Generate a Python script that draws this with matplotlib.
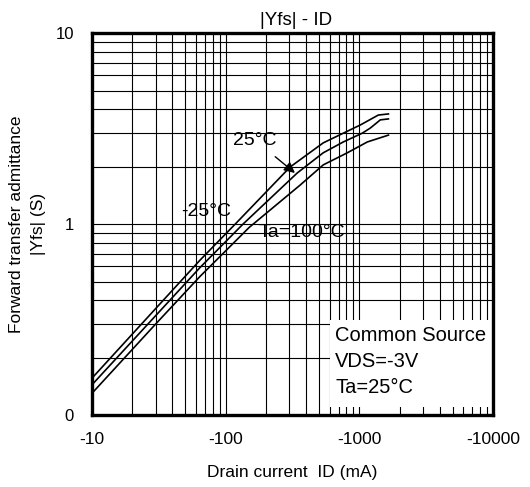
import numpy as np
import matplotlib
matplotlib.use("Agg")
import matplotlib.pyplot as plt
from matplotlib.patches import Rectangle

plt.rcParams['font.family'] = ['Liberation Sans', 'DejaVu Sans']

# ---------------------------------------------------------
# DATA
# ---------------------------------------------------------
# Drain current ID (mA) and |Yfs| (S) for each ambient temperature
id_m25 = [-10, -64, -118, -304, -537, -759, -1017, -1387, -1650]
yfs_m25 = [0.156, 0.645, 1.0, 1.99, 2.66, 2.99, 3.30, 3.72, 3.77]

id_25 = [-10, -64, -135, -343, -537, -759, -1052, -1208, -1436, -1650]
yfs_25 = [0.144, 0.59, 1.0, 1.85, 2.36, 2.69, 2.99, 3.18, 3.51, 3.55]

id_100 = [-10, -30, -64, -150, -361, -537, -813, -1148, -1650]
yfs_100 = [0.130, 0.30, 0.53, 0.96, 1.60, 2.04, 2.36, 2.69, 2.92]

x_ticks = [10, 100, 1000, 10000]
x_tick_labels = ['-10', '-100', '-1000', '-10000']
y_ticks = [0.1, 1, 10]
y_tick_labels = ['0', '1', '10']

conditions = ['Common Source', 'VDS=-3V', 'Ta=25°C']

# ---------------------------------------------------------
# PLOT
# ---------------------------------------------------------
fig = plt.figure(figsize=(5.3, 4.87), dpi=100)
ax = fig.add_axes([0.1736, 0.1478, 0.7566, 0.7844])

for ids, yfs in [(id_m25, yfs_m25), (id_25, yfs_25), (id_100, yfs_100)]:
    ax.plot(-np.array(ids), yfs, color='k', lw=1.2, zorder=3)

ax.set_xscale('log')
ax.set_yscale('log')
ax.set_xlim(10, 10000)
ax.set_ylim(0.1, 10)

ax.set_xticks(x_ticks)
ax.set_xticklabels(x_tick_labels)
ax.set_yticks(y_ticks)
ax.set_yticklabels(y_tick_labels)
ax.xaxis.set_minor_formatter(plt.NullFormatter())
ax.yaxis.set_minor_formatter(plt.NullFormatter())
ax.tick_params(which='both', length=0)
ax.tick_params(axis='x', pad=12, labelsize=12.5)
ax.tick_params(axis='y', pad=13, labelsize=12)

ax.grid(which='both', color='k', lw=0.8)
for s in ax.spines.values():
    s.set_linewidth(2.4)

# white box behind the measurement conditions
ax.add_patch(Rectangle((0.594, 0.021), 0.406, 0.228, transform=ax.transAxes,
                       facecolor='white', edgecolor='none', zorder=2))
for i, line in enumerate(conditions):
    ax.text(0.606, 0.207 - i * 0.068, line, transform=ax.transAxes,
            fontsize=14.5, va='center', ha='left', zorder=4)

# curve labels
ax.text(71, 1.156, '-25°C', fontsize=14, ha='center', va='center')
ax.text(175, 0.908, 'Ta=100°C', fontsize=14, ha='left', va='center')
ax.annotate('25°C', xy=(330, 1.85), xytext=(166, 2.75), fontsize=14,
            ha='center', va='center',
            arrowprops=dict(arrowstyle='-|>', color='k', lw=1.0,
                            mutation_scale=16, shrinkA=6, shrinkB=0))

ax.set_title('|Yfs| - ID', fontsize=13.5, pad=6, x=0.51)
ax.set_xlabel('Drain current  ID (mA)', fontsize=12.5)
ax.xaxis.set_label_coords(0.5, -0.131)
ax.set_ylabel('Forward transfer admittance\n|Yfs| (S)', fontsize=12.5,
              linespacing=1.6)
ax.yaxis.set_label_coords(-0.115, 0.5)

fig.savefig('out.png', dpi=100)
